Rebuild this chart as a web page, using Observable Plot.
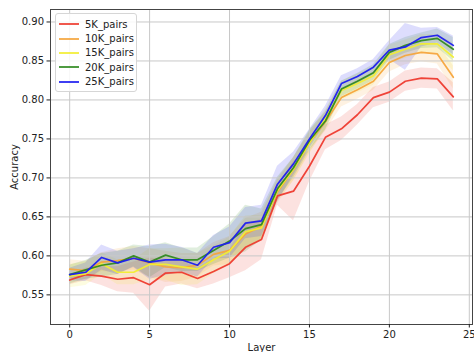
<!DOCTYPE html>
<html>
<head>
<meta charset="utf-8">
<script src="https://cdn.jsdelivr.net/npm/d3@7"></script>
<script src="https://cdn.jsdelivr.net/npm/@observablehq/plot@0.6"></script>
<style>
  body { margin: 0; background: #fff; }
  #wrap { position: relative; width: 474px; height: 352px; font-family: "DejaVu Sans", sans-serif; }
  #legend { position: absolute; left: 55px; top: 13px; width: 80px; padding: 3px 0 2px 0; background: rgba(255,255,255,0.85);
            border: 1px solid #d6d6d6; border-radius: 3px; font-size: 10px; color: #222; }
  .row { display: flex; align-items: center; height: 14.4px; }
  .row svg { margin: 0 6px 0 3px; }
</style>
</head>
<body>
<div id="wrap"><div id="chart"></div><div id="legend"></div></div>
<script>
const layers = [0,1,2,3,4,5,6,7,8,9,10,11,12,13,14,15,16,17,18,19,20,21,22,23,24];
const seriesNames = ["5K_pairs","10K_pairs","15K_pairs","20K_pairs","25K_pairs"];
const seriesColors = ["#ee3a2e","#f5a53c","#f2ee30","#2f8a1f","#1c1cf0"];

const acc5K  = [0.569,0.576,0.574,0.570,0.572,0.563,0.578,0.579,0.571,0.580,0.590,0.611,0.621,0.677,0.683,0.715,0.752,0.763,0.781,0.803,0.810,0.824,0.828,0.827,0.804];
const acc10K = [0.583,0.581,0.592,0.594,0.597,0.591,0.586,0.585,0.588,0.602,0.607,0.628,0.638,0.682,0.711,0.745,0.772,0.803,0.813,0.824,0.848,0.857,0.861,0.859,0.829];
const acc15K = [0.574,0.577,0.590,0.579,0.579,0.589,0.589,0.586,0.583,0.595,0.606,0.631,0.636,0.684,0.711,0.745,0.776,0.812,0.821,0.831,0.858,0.865,0.872,0.872,0.855];
const acc20K = [0.576,0.582,0.588,0.591,0.600,0.592,0.601,0.595,0.595,0.607,0.619,0.635,0.640,0.686,0.713,0.748,0.773,0.814,0.824,0.835,0.861,0.870,0.876,0.879,0.865];
const acc25K = [0.576,0.579,0.598,0.591,0.597,0.592,0.595,0.595,0.588,0.611,0.617,0.642,0.645,0.692,0.718,0.750,0.780,0.821,0.830,0.842,0.864,0.868,0.880,0.883,0.870];

const std5K  = [0.006,0.008,0.012,0.016,0.020,0.034,0.018,0.015,0.013,0.016,0.018,0.030,0.026,0.012,0.038,0.020,0.016,0.015,0.013,0.013,0.013,0.013,0.013,0.013,0.018];
const std10K = [0.012,0.012,0.012,0.015,0.015,0.018,0.020,0.018,0.015,0.015,0.018,0.020,0.018,0.015,0.015,0.013,0.012,0.012,0.012,0.012,0.012,0.012,0.012,0.013,0.015];
const std15K = [0.015,0.015,0.014,0.016,0.016,0.020,0.020,0.024,0.020,0.018,0.018,0.020,0.016,0.015,0.015,0.015,0.012,0.012,0.012,0.012,0.012,0.012,0.012,0.012,0.018];
const std20K = [0.012,0.012,0.015,0.015,0.014,0.020,0.016,0.015,0.015,0.018,0.022,0.030,0.020,0.015,0.013,0.013,0.012,0.010,0.010,0.010,0.010,0.010,0.010,0.012,0.015];
const std25K = [0.008,0.012,0.016,0.015,0.012,0.022,0.020,0.016,0.015,0.015,0.020,0.020,0.020,0.023,0.015,0.012,0.012,0.010,0.010,0.010,0.012,0.030,0.012,0.010,0.012];

const xTicks = [0,5,10,15,20,25];
const yTicks = [0.55,0.60,0.65,0.70,0.75,0.80,0.85,0.90];

const accs = [acc5K, acc10K, acc15K, acc20K, acc25K];
const stds = [std5K, std10K, std15K, std20K, std25K];
const rows = [];
seriesNames.forEach((s, i) => layers.forEach((l, j) => rows.push({series: s, layer: l, acc: accs[i][j], lo: accs[i][j] - stds[i][j], hi: accs[i][j] + stds[i][j]})));

const color = {domain: seriesNames, range: seriesColors};

const chart = Plot.plot({
  width: 474, height: 352,
  marginLeft: 50, marginRight: 2, marginTop: 9, marginBottom: 28,
  style: {fontFamily: "DejaVu Sans", fontSize: "10px", color: "#222", background: "#fff"},
  x: {domain: [-1.2, 25.2]},
  y: {domain: [0.512, 0.916]},
  color,
  marks: [
    Plot.areaY(rows, {x: "layer", y1: "lo", y2: "hi", fill: "series", fillOpacity: 0.15, z: "series"}),
    Plot.gridX(xTicks, {stroke: "#c8c8c8", strokeOpacity: 1, strokeWidth: 1}),
    Plot.gridY(yTicks, {stroke: "#c8c8c8", strokeOpacity: 1, strokeWidth: 1}),
    Plot.lineY(rows, {x: "layer", y: "acc", stroke: "series", z: "series", strokeWidth: 1.7, strokeOpacity: 0.95}),
    Plot.frame({stroke: "#444", strokeWidth: 1}),
    Plot.axisX({ticks: xTicks, tickSize: 3.5, tickPadding: 3, label: "Layer", labelAnchor: "center", labelArrow: "none", labelOffset: 26, fontSize: 10}),
    Plot.axisY({ticks: yTicks, tickSize: 3.5, tickPadding: 3, tickFormat: d3.format(".2f"), label: "Accuracy", labelAnchor: "center", labelArrow: "none", labelOffset: 40, fontSize: 10})
  ]
});
document.getElementById("chart").appendChild(chart);

const leg = document.getElementById("legend");
seriesNames.forEach((s, i) => {
  const r = document.createElement("div");
  r.className = "row";
  r.innerHTML = `<svg width="20" height="6"><line x1="0" x2="20" y1="3" y2="3" stroke="${seriesColors[i]}" stroke-width="1.7"/></svg><span>${s}</span>`;
  leg.appendChild(r);
});
</script>
</body>
</html>
